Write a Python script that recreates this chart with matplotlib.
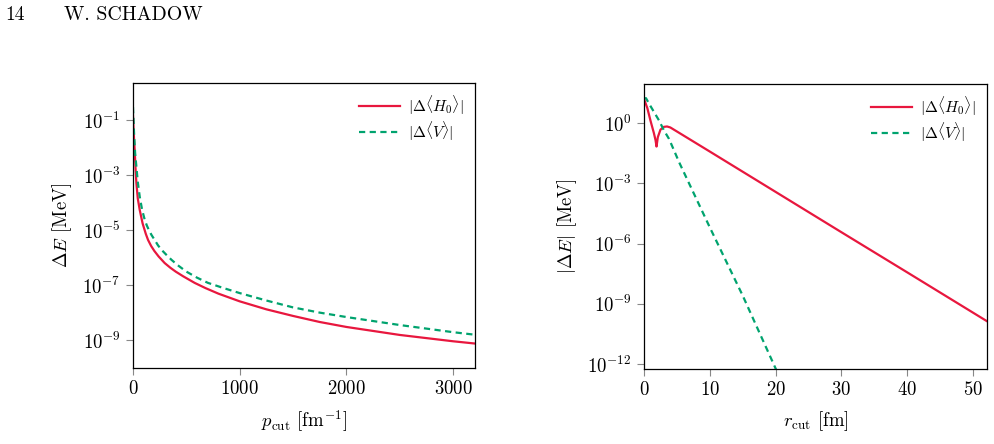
import matplotlib
matplotlib.use("Agg")
import matplotlib.pyplot as plt
import numpy as np

plt.rcParams['font.family'] = 'serif'
plt.rcParams['font.serif'] = ['cmr10']
plt.rcParams['mathtext.fontset'] = 'cm'
plt.rcParams['axes.formatter.use_mathtext'] = True

# left panel: momentum cut (log10 of |dE|)
p_cut = [0, 5, 10, 16, 25, 32, 45, 63, 90, 120, 141, 170, 200, 240, 297,
         350, 400, 470, 578, 680, 800, 1000, 1250, 1500, 1750, 2000, 2500,
         3000, 3200]
log_h0_p = [-0.83, -1.3, -1.7, -2.1, -2.85, -3.3, -3.85, -4.26, -4.75, -5.13,
            -5.35, -5.57, -5.75, -5.95, -6.19, -6.36, -6.5, -6.67, -6.91,
            -7.1, -7.3, -7.58, -7.87, -8.11, -8.33, -8.51, -8.80, -9.03,
            -9.11]
p_cut_v = [0, 5, 10, 20, 32, 45, 63, 85, 110, 130, 150, 175, 203, 235, 270,
           310, 360, 420, 500, 600, 703, 850, 1000, 1250, 1500, 1750, 2000,
           2500, 3000, 3200]
log_v_p = [-0.53, -1.0, -1.49, -2.2, -2.70, -3.25, -3.78, -4.25, -4.62, -4.83,
           -5.0, -5.18, -5.35, -5.55, -5.72, -5.88, -6.07, -6.27, -6.5,
           -6.72, -6.91, -7.1, -7.28, -7.55, -7.80, -7.99, -8.15, -8.44,
           -8.70, -8.79]

# right panel: coordinate-space cut
r_cut = [0, 0.5, 1.0, 1.5, 1.75, 1.9, 2.1, 2.5, 3.0, 3.5, 4.0, 10, 20, 30,
         40, 52.1]
log_h0_r = [1.2, 0.75, 0.1, -0.5, -0.85, -1.17, -0.7, -0.33, -0.19, -0.17,
            -0.22, -1.42, -3.43, -5.44, -7.44, -9.87]
r_cut_v = [0, 0.3, 0.76, 1.52, 2.28, 3.04, 3.8, 4.57, 5.33, 10, 15, 20.3]
log_v_r = [1.22, 1.24, 0.97, 0.55, 0.13, -0.37, -0.79, -1.37, -1.95, -5.2,
           -8.6, -12.45]

red = '#E8173E'
green = '#00A36E'
lab_h0 = r'$|\Delta\langle H_0\rangle|$'
lab_v = r'$|\Delta\langle V\rangle|$'
dash = (0, (2.8, 2.0))

fig = plt.figure(figsize=(9.94, 4.44), dpi=100)
fig.text(0.005, 0.955, '14', fontsize=14)
fig.text(0.064, 0.955, 'W. SCHADOW', fontsize=14.3)


def style(ax):
    ax.tick_params(direction='out', length=5, width=0.8, color='#888888',
                   labelsize=13.5, top=False, right=False, pad=4)
    ax.minorticks_off()
    for s in ax.spines.values():
        s.set_linewidth(0.9)
    ax.legend(loc='upper right', frameon=False, fontsize=11.2,
              handlelength=2.6, handletextpad=0.5, borderaxespad=0.35,
              labelspacing=0.25)


ax1 = fig.add_axes([0.1338, 0.1712, 0.344, 0.642])
ax1.plot(p_cut, 10.0 ** np.array(log_h0_p), color=red, lw=1.6, label=lab_h0)
ax1.plot(p_cut_v, 10.0 ** np.array(log_v_p), color=green, lw=1.6,
         ls=dash, label=lab_v)
ax1.set_yscale('log')
ax1.set_xlim(0, 3205)
ax1.set_ylim(10 ** -10.0, 10 ** 0.35)
ax1.set_xticks([0, 1000, 2000, 3000])
ax1.set_yticks([1e-1, 1e-3, 1e-5, 1e-7, 1e-9])
ax1.set_xlabel(r'$p_{\rm cut}$ [fm$^{-1}$]', fontsize=13.5, labelpad=7)
ax1.set_ylabel(r'$\Delta E$ [MeV]', fontsize=13.5, labelpad=6)
style(ax1)

ax2 = fig.add_axes([0.6479, 0.169, 0.345, 0.642])
ax2.plot(r_cut, 10.0 ** np.array(log_h0_r), color=red, lw=1.6, label=lab_h0)
ax2.plot(r_cut_v, 10.0 ** np.array(log_v_r), color=green, lw=1.6,
         ls=dash, label=lab_v)
ax2.set_yscale('log')
ax2.set_xlim(0, 52.1)
ax2.set_ylim(10 ** -12.25, 10 ** 1.95)
ax2.set_xticks([0, 10, 20, 30, 40, 50])
ax2.set_yticks([1e0, 1e-3, 1e-6, 1e-9, 1e-12])
ax2.set_xlabel(r'$r_{\rm cut}$ [fm]', fontsize=13.5, labelpad=7)
ax2.set_ylabel(r'$|\Delta E|$ [MeV]', fontsize=13.5, labelpad=6)
style(ax2)

fig.savefig('out.png', dpi=100)
